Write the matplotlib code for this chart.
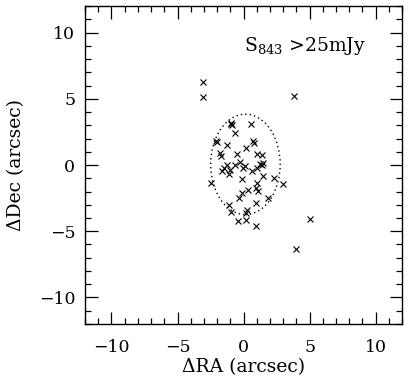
import matplotlib
matplotlib.use("Agg")
import matplotlib.pyplot as plt
from matplotlib.patches import Ellipse
from matplotlib.ticker import MultipleLocator

plt.rcParams['font.family'] = ['DejaVu Serif']
plt.rcParams['mathtext.fontset'] = 'dejavuserif'

# offsets of the sources (arcsec)
ra = [-3.04, -3.04, 3.85, 5.0, 3.95,
      0.55, -0.92, -0.85, -0.62, -2.05, -1.98, -1.27, 0.74, 0.78, 0.17,
      -0.47, -1.78, -1.73, 1.05, 1.38, 1.5, 1.42, -1.27, -1.5, -1.62,
      -1.02, -0.64, -0.3, -0.06, 0.1, 0.65, 0.98, 1.25, -1.12, -0.14,
      1.44, 2.28, 2.97, -2.49, 0.98, 0.33, -0.14, 0.92, 1.12, -0.36,
      1.86, 0.92, -1.1, -0.95, 0.26, 0.2, -0.42, 0.21, 0.97, -0.98]
dec = [6.29, 5.10, 5.20, -4.07, -6.34,
       3.07, 3.16, 3.0, 2.45, 1.82, 1.75, 1.49, 1.82, 1.65, 1.25,
       0.81, 0.9, 0.7, 0.85, 0.75, 0.13, -0.03, 0.0, -0.2, -0.45,
       -0.4, -0.03, 0.2, -0.25, -0.1, -0.45, -0.2, 0.05, -0.71, -1.06,
       -0.85, -0.98, -1.4, -1.39, -1.32, -1.92, -2.15, -1.74, -1.93, -2.47,
       -2.5, -2.9, -3.04, -3.55, -3.42, -3.66, -4.24, -4.17, -4.62, 3.1]

# error ellipse: centre, full width / height (arcsec)
ell_center = (0.14, 0.05)
ell_width = 5.26
ell_height = 7.58

fig = plt.figure(figsize=(4.09, 3.82), dpi=100)
ax = fig.add_axes([0.208, 0.152, 0.775, 0.832])

ax.plot(ra, dec, linestyle='none', marker='x', color='black',
        markersize=4.2, markeredgewidth=0.8)

ax.add_patch(Ellipse(ell_center, ell_width, ell_height, fill=False,
                     edgecolor='black', linewidth=1.0, linestyle=(0, (1, 2.2))))

ax.text(0.0, 9.0, r'S$_{843}$ >25mJy', fontsize=13.5, ha='left', va='center')

ax.set_xlim(-12, 12)
ax.set_ylim(-12, 12)
ax.xaxis.set_major_locator(MultipleLocator(5))
ax.xaxis.set_minor_locator(MultipleLocator(1))
ax.yaxis.set_major_locator(MultipleLocator(5))
ax.yaxis.set_minor_locator(MultipleLocator(1))
ax.tick_params(which='both', direction='in', top=True, right=True,
               width=0.9, labelsize=12.5)
ax.tick_params(axis='x', which='both', pad=11)
ax.tick_params(axis='y', which='both', pad=7)
ax.tick_params(which='major', length=9)
ax.tick_params(which='minor', length=4.5)
for s in ax.spines.values():
    s.set_linewidth(1.0)

ax.set_xlabel('ΔRA (arcsec)', fontsize=13.5, labelpad=1)
ax.set_ylabel('ΔDec (arcsec)', fontsize=13.5, labelpad=10)

plt.savefig("out.png", dpi=100)
